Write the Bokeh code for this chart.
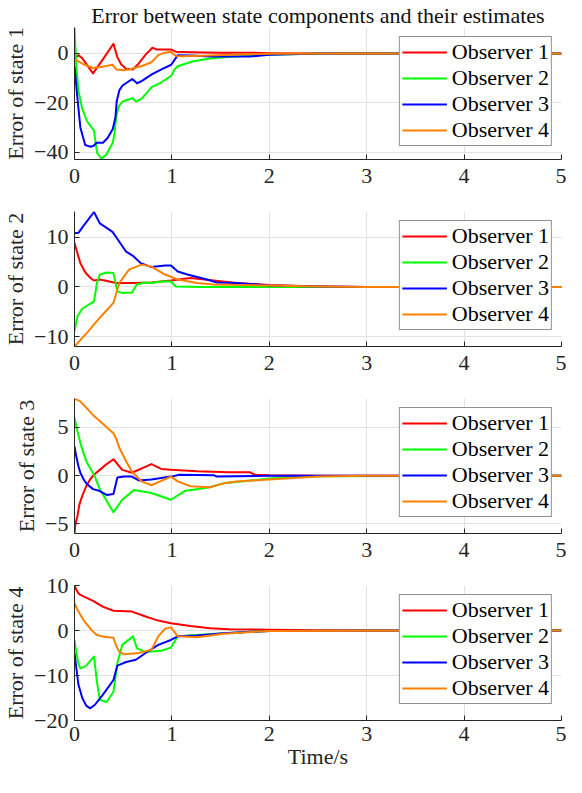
from bokeh.plotting import figure
from bokeh.models import Range1d, FixedTicker, Legend, LegendItem
from bokeh.layouts import column
from bokeh.embed import file_html
from bokeh.resources import INLINE

FONT = "Liberation Serif"
FS = "22px"
AX = "#262626"
COLORS = ["#ff0000", "#00ff00", "#0000ff", "#ff8000"]
NAMES = ["Observer 1", "Observer 2", "Observer 3", "Observer 4"]
X_TICKS = [0, 1, 2, 3, 4, 5]

t1_obs1 = [0, 0.04, 0.08, 0.19, 0.3, 0.4, 0.44, 0.48, 0.53, 0.6, 0.65, 0.73, 0.8, 0.84, 0.99, 1.04, 1.2, 1.5, 1.8, 2.0, 2.5, 5]
e1_obs1 = [-2.3, -0.7, -2.0, -8.1, -1.9, 3.9, -1.5, -4.5, -6.2, -6.5, -4.5, -0.5, 2.3, 1.6, 1.6, 0.7, 0.5, 0.3, 0.3, 0.1, 0, 0]
t1_obs2 = [0, 0.02, 0.043, 0.077, 0.127, 0.2, 0.213, 0.233, 0.277, 0.327, 0.393, 0.41, 0.427, 0.453, 0.493, 0.593, 0.633, 0.693, 0.793, 0.893, 0.993, 1.027, 1.06, 1.21, 1.41, 1.81, 2.21, 2.6, 5]
e1_obs2 = [10.3, -6.5, -15.6, -22.2, -27.4, -31.3, -35.2, -40.4, -42.7, -41, -36.2, -32.6, -26, -21.5, -19.5, -18.2, -19.5, -18.2, -13.7, -11.7, -9.1, -6.5, -5.2, -3.3, -2.0, -0.7, -0.3, 0, 0]
t1_obs3 = [0, 0.027, 0.06, 0.11, 0.16, 0.193, 0.227, 0.293, 0.343, 0.393, 0.42, 0.433, 0.46, 0.493, 0.543, 0.593, 0.643, 0.693, 0.793, 0.893, 0.993, 1.027, 1.06, 1.2, 1.4, 1.8, 2.0, 2.5, 5]
e1_obs3 = [-5.2, -16.9, -30, -37.1, -37.8, -37.5, -36.2, -36.2, -34.1, -30.6, -26, -19.5, -15, -13, -11.7, -10.4, -12.1, -11.1, -8.5, -6.5, -4.6, -2.6, -0.7, -0.8, -1.3, -1.3, -0.5, 0, 0]
t1_obs4 = [0, 0.1, 0.19, 0.3, 0.39, 0.43, 0.5, 0.56, 0.7, 0.79, 0.86, 0.93, 0.99, 1.04, 1.1, 1.3, 1.6, 2.0, 2.5, 5]
e1_obs4 = [-2.3, -4.5, -5.9, -5.3, -4.6, -6.5, -6.8, -6.5, -5.0, -3.6, -0.7, 0.3, 0.7, -1.0, -1.2, -1.0, -0.5, -0.1, 0, 0]

t2_obs1 = [0, 0.03, 0.06, 0.1, 0.13, 0.17, 0.2, 0.26, 0.43, 0.59, 0.79, 0.99, 1.19, 1.43, 1.66, 2.0, 2.5, 3, 5]
e2_obs1 = [8.9, 6.8, 4.8, 3.3, 2.5, 1.7, 1.3, 1.5, 0.8, 0.8, 0.9, 1.3, 1.8, 1.3, 0.8, 0.4, 0.1, 0, 0]
t2_obs2 = [0, 0.03, 0.08, 0.2, 0.23, 0.26, 0.33, 0.4, 0.44, 0.49, 0.59, 0.64, 0.73, 0.79, 0.89, 0.99, 1.04, 1.3, 5]
e2_obs2 = [-8.9, -5.9, -4.4, -2.9, 0.8, 2.5, 2.9, 2.8, -0.9, -1.2, -1.1, 0.5, 0.9, 0.8, 1.1, 1.1, 0.1, 0, 0]
t2_obs3 = [0, 0.04, 0.1, 0.2, 0.26, 0.33, 0.39, 0.46, 0.53, 0.58, 0.61, 0.68, 0.79, 0.93, 0.99, 1.06, 1.16, 1.26, 1.36, 1.46, 1.66, 2.0, 2.5, 3, 5]
e2_obs3 = [10.8, 10.9, 12.5, 15.1, 12.8, 11.9, 11.1, 9.1, 7.1, 6.5, 6.1, 4.8, 4.0, 4.3, 4.3, 3.1, 2.5, 2.0, 1.5, 0.9, 0.8, 0.3, 0.1, 0, 0]
t2_obs4 = [0, 0.13, 0.26, 0.4, 0.46, 0.56, 0.69, 0.79, 0.93, 1.06, 1.26, 1.43, 2.0, 2.5, 3, 5]
e2_obs4 = [-12, -9.2, -6.2, -3.2, 0.8, 3.5, 4.5, 4.1, 2.5, 1.5, 0.8, 0.5, 0.3, 0.1, 0, 0]

t3_obs1 = [0, 0.01, 0.03, 0.05, 0.08, 0.12, 0.16, 0.2, 0.26, 0.33, 0.4, 0.49, 0.59, 0.79, 0.89, 0.99, 1.26, 1.59, 1.8, 1.85, 2.0, 2.5, 5]
e3_obs1 = [-6, -5, -4.2, -3.0, -2.1, -1.1, -0.4, 0.1, 0.6, 1.2, 1.7, 0.6, 0.3, 1.2, 0.7, 0.6, 0.45, 0.35, 0.35, 0.1, 0.05, 0, 0]
t3_obs2 = [0, 0.03, 0.06, 0.1, 0.13, 0.2, 0.26, 0.4, 0.49, 0.61, 0.79, 0.99, 1.13, 1.39, 1.53, 2.0, 2.5, 5]
e3_obs2 = [6, 4.6, 3.4, 2.1, 1.3, 0.1, -1.4, -3.8, -2.5, -1.5, -1.8, -2.5, -1.6, -1.2, -0.8, -0.3, -0.05, 0]
t3_obs3 = [0, 0.02, 0.04, 0.06, 0.1, 0.13, 0.19, 0.26, 0.33, 0.4, 0.44, 0.51, 0.59, 0.66, 0.79, 0.99, 1.08, 1.43, 1.46, 2.0, 5]
e3_obs3 = [3, 1.9, 1.0, 0.3, -0.5, -0.9, -1.4, -1.6, -2.0, -1.9, -0.2, -0.1, -0.1, -0.5, -0.4, -0.1, 0.1, 0.05, -0.1, 0, 0]
t3_obs4 = [0, 0.06, 0.19, 0.4, 0.43, 0.46, 0.53, 0.59, 0.69, 0.79, 0.99, 1.06, 1.19, 1.39, 1.53, 1.66, 2.0, 2.5, 3, 5]
e3_obs4 = [8, 7.7, 6.3, 4.4, 3.8, 2.9, 1.5, 0.4, -0.6, -1.0, -0.1, -0.6, -1.1, -1.2, -0.8, -0.6, -0.4, -0.1, 0, 0]

t4_obs1 = [0, 0.02, 0.04, 0.06, 0.19, 0.29, 0.4, 0.59, 0.73, 0.86, 0.99, 1.19, 1.39, 1.59, 2.0, 2.5, 5]
e4_obs1 = [10, 9.0, 8.3, 7.9, 6.6, 5.3, 4.4, 4.2, 3.1, 2.2, 1.6, 1.0, 0.5, 0.3, 0.15, 0.05, 0]
t4_obs2 = [0, 0.02, 0.04, 0.06, 0.09, 0.13, 0.2, 0.23, 0.26, 0.33, 0.4, 0.44, 0.49, 0.6, 0.64, 0.73, 0.89, 0.99, 1.06, 1.26, 1.53, 2.0, 5]
e4_obs2 = [-2.1, -5, -7.3, -8.4, -8.2, -7.6, -5.8, -11.3, -15.4, -15.9, -13.6, -7.3, -3.2, -1.3, -3.9, -4.8, -4.5, -3.8, -1.3, -1.0, -0.6, -0.1, 0]
t4_obs3 = [0, 0.02, 0.04, 0.08, 0.12, 0.16, 0.21, 0.29, 0.4, 0.44, 0.53, 0.63, 0.73, 0.86, 0.99, 1.06, 1.26, 1.53, 2.0, 5]
e4_obs3 = [-5, -8.5, -12, -15, -16.7, -17.3, -16.5, -14.3, -11, -7.8, -7.0, -6.5, -5.0, -3.2, -2.1, -1.3, -1.1, -0.6, -0.1, 0]
t4_obs4 = [0, 0.03, 0.06, 0.1, 0.13, 0.18, 0.23, 0.3, 0.4, 0.43, 0.46, 0.51, 0.66, 0.79, 0.86, 0.93, 0.99, 1.06, 1.26, 1.53, 2.0, 5]
e4_obs4 = [6.1, 4.6, 3.5, 2.1, 1.3, 0.0, -1.0, -1.4, -1.6, -3.5, -4.7, -5.3, -5.0, -4.3, -1.3, 0.4, 0.7, -1.3, -1.5, -0.7, -0.1, 0]

Y_LIMITS = [(-43, 10.5), (-12, 15.2), (-6, 8), (-20, 10)]
Y_TICKS = [[-40, -20, 0], [-10, 0, 10], [-5, 0, 5], [-20, -10, 0, 10]]
Y_LABELS = ["Error of state 1", "Error of state 2", "Error of state 3", "Error of state 4"]
TITLE = "Error between state components and their estimates"
X_LABEL = "Time/s"

SERIES = [
    [(t1_obs1, e1_obs1), (t1_obs2, e1_obs2), (t1_obs3, e1_obs3), (t1_obs4, e1_obs4)],
    [(t2_obs1, e2_obs1), (t2_obs2, e2_obs2), (t2_obs3, e2_obs3), (t2_obs4, e2_obs4)],
    [(t3_obs1, e3_obs1), (t3_obs2, e3_obs2), (t3_obs3, e3_obs3), (t3_obs4, e3_obs4)],
    [(t4_obs1, e4_obs1), (t4_obs2, e4_obs2), (t4_obs3, e4_obs3), (t4_obs4, e4_obs4)],
]


def make_panel(i, height, top, bottom):
    ylo, yhi = Y_LIMITS[i]
    p = figure(width=566, height=height,
               x_range=Range1d(0, 5), y_range=Range1d(ylo, yhi),
               output_backend="svg", toolbar_location=None,
               min_border_left=64, min_border_right=5,
               min_border_top=top, min_border_bottom=bottom)
    p.outline_line_color = None
    p.background_fill_color = "white"
    p.border_fill_color = "white"

    if i == 0:
        p.title.text = TITLE
        p.title.text_font = FONT
        p.title.text_font_size = FS
        p.title.text_font_style = "normal"
        p.title.text_color = "#111111"
        p.title.align = "center"
        p.title.standoff = 0
        p.title.offset = 0

    p.xaxis.ticker = FixedTicker(ticks=X_TICKS)
    p.yaxis.ticker = FixedTicker(ticks=Y_TICKS[i])
    p.axis.axis_line_color = AX
    p.axis.major_tick_line_color = AX
    p.axis.major_tick_in = 5
    p.axis.major_tick_out = 0
    p.axis.minor_tick_line_color = None
    p.axis.major_label_text_font = FONT
    p.axis.major_label_text_font_size = FS
    p.axis.major_label_text_font_style = "normal"
    p.axis.major_label_text_color = AX
    p.axis.axis_label_text_font = FONT
    p.axis.axis_label_text_font_size = FS
    p.axis.axis_label_text_font_style = "normal"
    p.axis.axis_label_text_color = AX
    p.xaxis.major_label_standoff = 9 if i < 3 else 6
    p.yaxis.major_label_standoff = 6
    p.yaxis.axis_label = Y_LABELS[i]
    p.yaxis.axis_label_standoff = 3
    if i == 3:
        p.xaxis.axis_label = X_LABEL
        p.xaxis.axis_label_standoff = 0

    p.xgrid.grid_line_color = "#e2e2e2"
    p.ygrid.grid_line_color = "#e2e2e2"

    items = []
    for k, (t, e) in enumerate(SERIES[i]):
        r = p.line(t, e, line_color=COLORS[k], line_width=2, line_join="round")
        items.append(LegendItem(label=NAMES[k], renderers=[r]))

    leg = Legend(items=items, location="top_right")
    leg.label_text_font = FONT
    leg.label_text_font_size = FS
    leg.label_text_font_style = "normal"
    leg.label_text_color = "#000000"
    leg.glyph_width = 45
    leg.glyph_height = 24
    leg.label_height = 24
    leg.label_width = 93
    leg.label_standoff = 5
    leg.spacing = 0
    leg.padding = 2
    leg.margin = 9
    leg.border_line_color = AX
    leg.border_line_width = 1
    leg.background_fill_color = "white"
    leg.background_fill_alpha = 1
    p.add_layout(leg)
    return p


p1 = make_panel(0, 199, 24, 40)
p2 = make_panel(1, 187, 12, 40)
p3 = make_panel(2, 187, 12, 40)
p4 = make_panel(3, 204, 12, 57)

layout = column(p1, p2, p3, p4, spacing=0)

open("out.html", "w").write(file_html(layout, INLINE))
